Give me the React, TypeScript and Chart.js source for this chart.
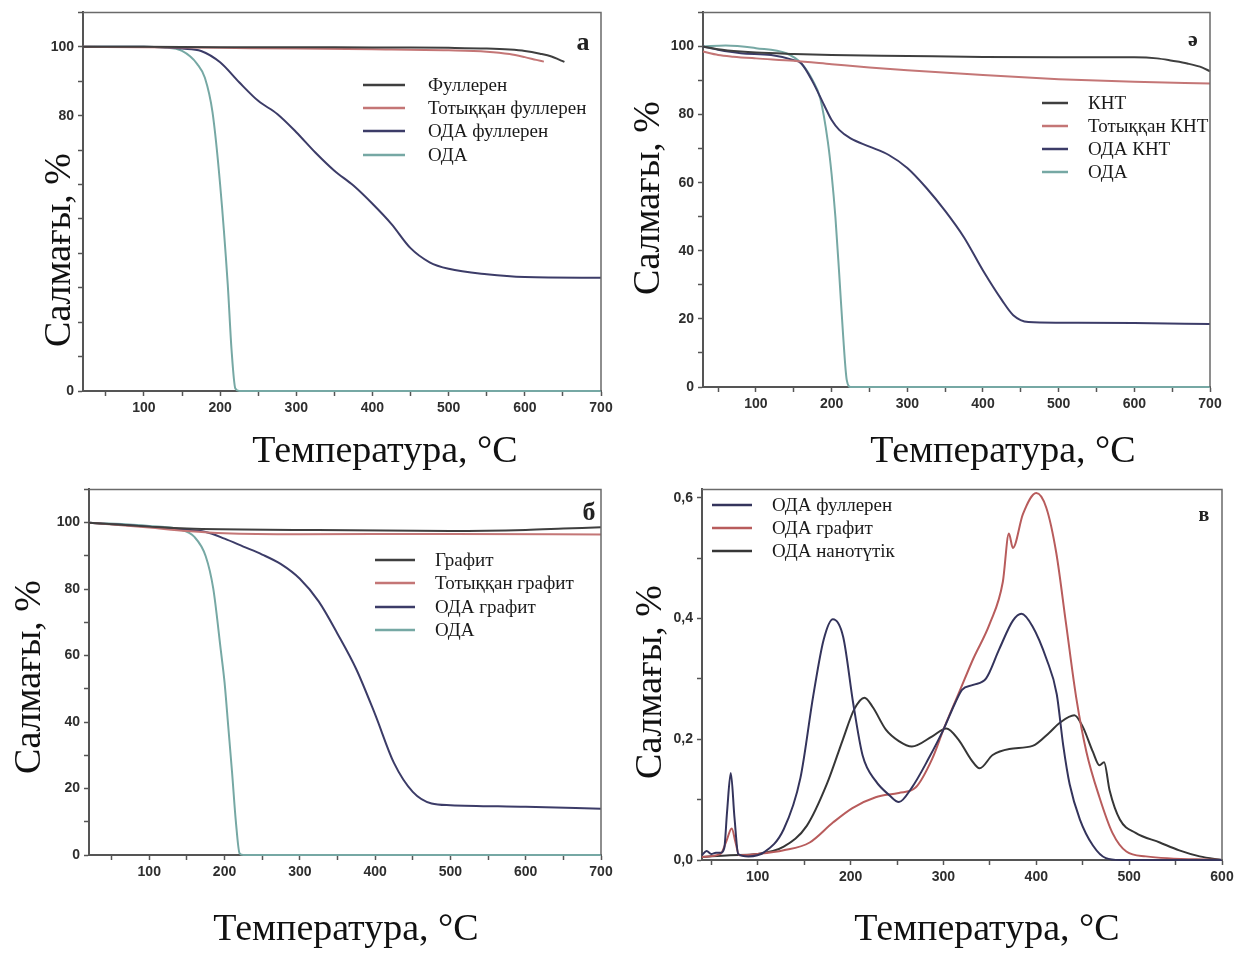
import React, { useEffect, useRef } from "react";
import { Chart, registerables } from "chart.js";
Chart.register(...registerables);

// ---------- Panel а (fullerene) ----------
const fullerenT = [20, 100, 200, 300, 400, 450, 500, 550, 580, 600, 620, 635, 645, 652];
const fullerenW = [100, 100, 99.9, 99.9, 99.8, 99.8, 99.7, 99.5, 99.2, 98.8, 98.0, 97.2, 96.3, 95.6];
const oxFullerenT = [20, 100, 200, 300, 400, 500, 550, 580, 600, 615, 625];
const oxFullerenW = [100, 99.9, 99.7, 99.5, 99.3, 99.0, 98.6, 97.9, 97.0, 96.2, 95.7];
const odaFullerenT = [20, 100, 130, 150, 175, 200, 225, 250, 275, 300, 325, 350, 375, 400, 425, 450, 475, 500, 550, 600, 700];
const odaFullerenW = [100, 100, 99.8, 99.5, 98.8, 95.5, 89.7, 84.3, 80.5, 75.2, 69.3, 64, 59.7, 54.4, 48.5, 41.5, 37.4, 35.5, 33.9, 33.1, 32.9];
const odaAT = [20, 100, 125, 150, 170, 180, 190, 200, 210, 215, 220, 225, 700];
const odaAW = [100, 100, 99.8, 98.8, 95, 91, 81, 60, 31, 12, 0.7, 0, 0];

// ---------- Panel ә (CNT) ----------
const kntT = [30, 50, 80, 100, 150, 200, 300, 400, 500, 550, 600, 630, 650, 670, 690, 700];
const kntW = [100, 99.2, 98.5, 98.2, 97.8, 97.5, 97.2, 96.9, 96.8, 96.8, 96.8, 96.5, 95.8, 95.0, 93.8, 92.7];
const oxKntT = [30, 50, 70, 100, 150, 200, 250, 300, 400, 500, 600, 700];
const oxKntW = [98.5, 97.5, 97, 96.5, 95.8, 94.8, 93.8, 93, 91.6, 90.4, 89.6, 89.1];
const odaKntT = [30, 50, 80, 120, 150, 160, 175, 190, 200, 210, 225, 250, 275, 300, 325, 350, 375, 400, 425, 440, 460, 500, 600, 700];
const odaKntW = [100, 99, 98, 97.5, 96, 95, 89.6, 82.8, 78.4, 75.5, 73, 70.6, 68.2, 64.3, 58.5, 51.7, 43.9, 34.2, 25.5, 21.1, 19.1, 18.9, 18.8, 18.5];
const odaBT = [30, 60, 100, 140, 160, 175, 185, 195, 200, 205, 210, 215, 220, 225, 700];
const odaBW = [100, 100.3, 99.5, 98, 95, 90, 84.7, 72, 62.4, 49.8, 33.2, 15.7, 2, 0, 0];

// ---------- Panel б (graphite) ----------
const graphT = [20, 100, 150, 300, 500, 600, 650, 700];
const graphW = [100, 98.8, 98.2, 97.8, 97.5, 97.8, 98.2, 98.6];
const oxGraphT = [20, 100, 150, 200, 300, 500, 700];
const oxGraphW = [100, 98.5, 97.5, 96.8, 96.5, 96.6, 96.4];
const odaGraphT = [20, 100, 140, 175, 200, 225, 250, 275, 300, 325, 350, 375, 400, 425, 450, 475, 500, 600, 700];
const odaGraphW = [100, 98.8, 98, 97.2, 95.2, 92.8, 90.4, 87.5, 83.1, 76.3, 66.6, 55.9, 42.3, 27.7, 19, 15.5, 15, 14.5, 13.9];
const odaCT = [20, 100, 140, 160, 175, 185, 195, 200, 205, 210, 215, 220, 225, 700];
const odaCW = [100, 99, 98, 95.7, 89.9, 80.2, 61.7, 52, 38.5, 24.9, 10.2, 0.5, 0, 0];

// ---------- Panel в (DTG) ----------
const dtgFullT = [40, 45, 50, 55, 60, 64, 67, 71, 75, 79, 90, 107, 128, 146, 160, 171, 181, 192, 203, 213, 227, 242, 252, 266, 284, 300, 312, 320, 332, 346, 360, 375, 384, 396, 411, 422, 429, 436, 447, 461, 475, 490, 600];
const dtgFullW = [0.008, 0.015, 0.01, 0.012, 0.012, 0.02, 0.08, 0.144, 0.07, 0.01, 0.006, 0.013, 0.051, 0.136, 0.274, 0.365, 0.399, 0.37, 0.258, 0.173, 0.131, 0.107, 0.096, 0.12, 0.168, 0.216, 0.258, 0.282, 0.29, 0.301, 0.349, 0.397, 0.408, 0.387, 0.333, 0.275, 0.19, 0.125, 0.067, 0.024, 0.003, 0, 0];
const dtgGraphT = [40, 60, 66, 72, 76, 80, 100, 128, 156, 181, 202, 227, 252, 270, 288, 300, 317, 332, 350, 364, 370.5, 374.8, 385.6, 400, 410.7, 421.5, 432, 443, 454, 468, 482, 497, 518, 600];
const dtgGraphW = [0.005, 0.01, 0.03, 0.052, 0.03, 0.008, 0.01, 0.016, 0.029, 0.062, 0.086, 0.104, 0.111, 0.12, 0.168, 0.216, 0.278, 0.333, 0.392, 0.461, 0.541, 0.517, 0.573, 0.608, 0.584, 0.509, 0.392, 0.269, 0.179, 0.104, 0.045, 0.014, 0.006, 0];
const dtgTubeT = [40, 70, 100, 128, 153, 174.5, 191.8, 204, 215, 224, 238, 252, 266, 288, 303, 316, 330, 339, 353, 371, 396, 414, 425, 441, 450, 461, 468, 473, 479, 490, 507, 533, 554, 576, 600];
const dtgTubeW = [0.005, 0.008, 0.01, 0.022, 0.057, 0.126, 0.2, 0.25, 0.269, 0.253, 0.216, 0.197, 0.188, 0.205, 0.218, 0.2, 0.166, 0.152, 0.174, 0.184, 0.189, 0.211, 0.227, 0.24, 0.221, 0.179, 0.157, 0.162, 0.115, 0.067, 0.045, 0.029, 0.016, 0.006, 0];

// ---------- Text ----------
const xTitle = "Температура, °С";
const yTitle = "Салмағы, %";
const legendA = ["Фуллерен", "Тотыққан фуллерен", "ОДА фуллерен", "ОДА"];
const legendB = ["КНТ", "Тотыққан КНТ", "ОДА КНТ", "ОДА"];
const legendC = ["Графит", "Тотыққан графит", "ОДА графит", "ОДА"];
const legendD = ["ОДА фуллерен", "ОДА графит", "ОДА нанотүтік"];

const C_BASE = "#3f3f3f";
const C_OX = "#c47676";
const C_ODAX = "#3c3c68";
const C_ODA = "#76a8a4";
const C_DTG_F = "#34345c";
const C_DTG_G = "#b85c5c";
const C_DTG_T = "#363636";

const W = 621;
const H = 477;

type Series = { label: string; t: number[]; w: number[]; color: string };
type Panel = {
  left: number;
  top: number;
  series: Series[];
  xMin: number;
  xMax: number;
  yMax: number;
  yStep: number;
  yLabel: (v: number) => string;
  area: { l: number; t: number; r: number; b: number };
  xT: [number, number];
  yT: [number, number];
  letter: { text: string; x: number; y: number; size: number };
  legend: { x0: number; x1: number; tx: number; ys: number[]; size: number };
};

const tgaLabel = (v: number) => {
  const r = Math.round(v);
  return r % 20 === 0 && r <= 100 ? String(r) : "";
};
const tgaLabelA = (v: number) => {
  const r = Math.round(v);
  return r === 0 || r === 80 || r === 100 ? String(r) : "";
};
const dtgLabel = (v: number) => {
  const r = Math.round(v * 10);
  return r % 2 === 0 ? (r / 10).toFixed(1).replace(".", ",") : "";
};

const panels: Panel[] = [
  {
    left: 0, top: 0,
    series: [
      { label: legendA[0], t: fullerenT, w: fullerenW, color: C_BASE },
      { label: legendA[1], t: oxFullerenT, w: oxFullerenW, color: C_OX },
      { label: legendA[2], t: odaFullerenT, w: odaFullerenW, color: C_ODAX },
      { label: legendA[3], t: odaAT, w: odaAW, color: C_ODA },
    ],
    xMin: 20, xMax: 700, yMax: 110, yStep: 10, yLabel: tgaLabelA,
    area: { l: 83, t: 12, r: 601, b: 391 },
    xT: [385, 452], yT: [60, 250],
    letter: { text: "а", x: 583, y: 43, size: 26 },
    legend: { x0: 363, x1: 405, tx: 428, ys: [85, 108, 131, 155], size: 19 },
  },
  {
    left: 621, top: 0,
    series: [
      { label: legendB[0], t: kntT, w: kntW, color: C_BASE },
      { label: legendB[1], t: oxKntT, w: oxKntW, color: C_OX },
      { label: legendB[2], t: odaKntT, w: odaKntW, color: C_ODAX },
      { label: legendB[3], t: odaBT, w: odaBW, color: C_ODA },
    ],
    xMin: 30, xMax: 700, yMax: 110, yStep: 10, yLabel: tgaLabel,
    area: { l: 82, t: 12, r: 589, b: 387 },
    xT: [382, 452], yT: [28, 198],
    letter: { text: "ә", x: 572, y: 40, size: 22 },
    legend: { x0: 421, x1: 447, tx: 467, ys: [103, 126, 149, 172], size: 19 },
  },
  {
    left: 0, top: 477,
    series: [
      { label: legendC[0], t: graphT, w: graphW, color: C_BASE },
      { label: legendC[1], t: oxGraphT, w: oxGraphW, color: C_OX },
      { label: legendC[2], t: odaGraphT, w: odaGraphW, color: C_ODAX },
      { label: legendC[3], t: odaCT, w: odaCW, color: C_ODA },
    ],
    xMin: 20, xMax: 700, yMax: 110, yStep: 10, yLabel: tgaLabel,
    area: { l: 89, t: 3, r: 601, b: 378 },
    xT: [346, 453], yT: [30, 200],
    letter: { text: "б", x: 589, y: 36, size: 26 },
    legend: { x0: 375, x1: 415, tx: 435, ys: [83, 106, 130, 153], size: 19 },
  },
  {
    left: 621, top: 477,
    series: [
      { label: legendD[0], t: dtgFullT, w: dtgFullW, color: C_DTG_F },
      { label: legendD[1], t: dtgGraphT, w: dtgGraphW, color: C_DTG_G },
      { label: legendD[2], t: dtgTubeT, w: dtgTubeW, color: C_DTG_T },
    ],
    xMin: 40, xMax: 600, yMax: 0.614, yStep: 0.1, yLabel: dtgLabel,
    area: { l: 81, t: 1, r: 601, b: 383 },
    xT: [366, 453], yT: [30, 205],
    letter: { text: "в", x: 583, y: 39, size: 20 },
    legend: { x0: 91, x1: 131, tx: 151, ys: [28, 51, 74], size: 19 },
  },
];

const SERIF = "'Liberation Serif', 'Times New Roman', serif";
const SANS = "'Liberation Sans', Arial, sans-serif";

const decoPlugin = {
  id: "deco",
  afterDraw(chart: any, _args: any, opts: any) {
    const p: Panel = opts.panel;
    const ctx = chart.ctx as CanvasRenderingContext2D;
    const a = chart.chartArea;
    ctx.save();
    // frame top and right
    ctx.strokeStyle = "#6a6a6a";
    ctx.lineWidth = 1.5;
    ctx.beginPath();
    ctx.moveTo(a.left, a.top);
    ctx.lineTo(a.right, a.top);
    ctx.lineTo(a.right, a.bottom);
    ctx.stroke();
    // legend
    ctx.font = `${p.legend.size}px ${SERIF}`;
    ctx.textBaseline = "middle";
    ctx.textAlign = "left";
    p.series.forEach((s, i) => {
      const y = p.legend.ys[i];
      ctx.strokeStyle = s.color;
      ctx.lineWidth = 2.5;
      ctx.beginPath();
      ctx.moveTo(p.legend.x0, y);
      ctx.lineTo(p.legend.x1, y);
      ctx.stroke();
      ctx.fillStyle = "#1a1a1a";
      ctx.fillText(s.label, p.legend.tx, y + 1);
    });
    // letter
    ctx.font = `bold ${p.letter.size}px ${SERIF}`;
    ctx.textAlign = "center";
    ctx.fillStyle = "#222";
    ctx.fillText(p.letter.text, p.letter.x, p.letter.y);
    // axis titles
    ctx.font = `38px ${SERIF}`;
    ctx.fillStyle = "#111";
    ctx.fillText(xTitle, p.xT[0], p.xT[1]);
    ctx.translate(p.yT[0], p.yT[1]);
    ctx.rotate(-Math.PI / 2);
    ctx.fillText(yTitle, 0, 0);
    ctx.restore();
  },
};

function PanelChart({ p }: { p: Panel }) {
  const ref = useRef<HTMLCanvasElement | null>(null);
  useEffect(() => {
    if (!ref.current) return;
    const chart = new Chart(ref.current, {
      type: "line",
      data: {
        datasets: p.series.map((s) => ({
          label: s.label,
          data: s.t.map((x, i) => ({ x, y: s.w[i] })),
          borderColor: s.color,
          backgroundColor: s.color,
          borderWidth: 2,
          pointRadius: 0,
          fill: false,
          cubicInterpolationMode: "monotone" as const,
          clip: 4,
        })),
      },
      options: {
        animation: false,
        responsive: false,
        maintainAspectRatio: false,
        events: [],
        layout: {
          padding: { left: 0, top: p.area.t, right: W - p.area.r, bottom: 0 },
        },
        plugins: {
          legend: { display: false },
          tooltip: { enabled: false },
          deco: { panel: p },
        } as any,
        scales: {
          x: {
            type: "linear",
            min: p.xMin,
            max: p.xMax,
            afterFit: (s: any) => {
              s.height = H - p.area.b;
            },
            border: { display: true, color: "#555", width: 2 },
            grid: { display: true, drawOnChartArea: false, drawTicks: true, tickLength: 5, color: "#555", tickWidth: 1.5 },
            ticks: {
              stepSize: 50,
              includeBounds: false,
              autoSkip: false,
              maxRotation: 0,
              padding: 4,
              color: "#2e2e2e",
              font: { family: SANS, size: 14, weight: "bold" },
              callback: (v: any) => (Math.round(v) % 100 === 0 ? String(Math.round(v)) : ""),
            },
          },
          y: {
            type: "linear",
            min: 0,
            max: p.yMax,
            afterFit: (s: any) => {
              s.width = p.area.l;
            },
            border: { display: true, color: "#555", width: 2 },
            grid: { display: true, drawOnChartArea: false, drawTicks: true, tickLength: 5, color: "#555", tickWidth: 1.5 },
            ticks: {
              stepSize: p.yStep,
              includeBounds: false,
              autoSkip: false,
              padding: 4,
              color: "#2e2e2e",
              font: { family: SANS, size: 14, weight: "bold" },
              callback: (v: any) => p.yLabel(Number(v)),
            },
          },
        },
      } as any,
      plugins: [decoPlugin],
    });
    return () => chart.destroy();
  }, [p]);
  return (
    <canvas
      ref={ref}
      width={W}
      height={H}
      style={{ position: "absolute", left: p.left, top: p.top, width: W, height: H, display: "block" }}
    />
  );
}

export default function App() {
  return (
    <div style={{ position: "absolute", left: 0, top: 0, width: 1242, height: 954, background: "#fff", overflow: "hidden" }}>
      {panels.map((p, i) => (
        <PanelChart key={i} p={p} />
      ))}
    </div>
  );
}
